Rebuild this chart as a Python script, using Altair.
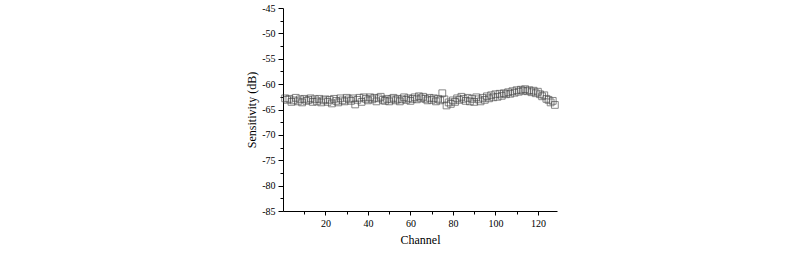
import altair as alt
import pandas as pd

channels = list(range(1, 129))
sensitivity = [
    -62.8, -63.1, -62.9, -63.5, -63.2, -62.7, -63.4, -63.0, -63.6, -62.9,
    -63.3, -63.1, -62.8, -63.5, -63.0, -63.4, -62.9, -63.6, -63.2, -63.0,
    -63.5, -63.1, -63.8, -62.9, -63.3, -63.6, -62.8, -63.2, -63.4, -62.7,
    -63.0, -63.3, -62.8, -64.0, -63.1, -62.7, -63.5, -62.6, -62.9, -63.2,
    -62.6, -63.0, -62.7, -63.4, -62.8, -62.5, -63.1, -63.3, -62.9, -63.4,
    -63.0, -62.7, -63.2, -62.9, -63.4, -63.0, -62.6, -63.1, -62.8, -63.3,
    -62.9, -62.6, -63.0, -62.4, -62.8, -62.5, -62.9, -63.2, -62.7, -63.1,
    -62.8, -63.4, -62.9, -63.2, -61.8, -63.0, -64.2, -63.6, -63.9, -63.2,
    -63.5, -62.8, -63.1, -62.5, -62.9, -63.3, -62.7, -63.4, -62.9, -63.5,
    -62.6, -63.0, -63.4, -62.7, -63.1, -62.4, -62.8, -62.2, -62.6, -62.0,
    -62.5, -61.9, -62.3, -61.8, -62.0, -61.6, -61.9, -61.4, -61.7, -61.2,
    -61.5, -61.1, -61.3, -61.0, -61.4, -61.2, -61.6, -61.3, -61.8, -61.5,
    -62.0, -62.4, -62.2, -62.9, -63.1, -63.6, -63.3, -64.1,
]
x_tick_values = [10, 20, 30, 40, 50, 60, 70, 80, 90, 100, 110, 120]
y_tick_values = [-85 + 2.5 * i for i in range(17)]

df = pd.DataFrame({"Channel": channels, "Sensitivity": sensitivity})

font = "Liberation Serif"

chart = alt.Chart(df).mark_point(
    shape="square", filled=False, size=46, strokeWidth=0.9, color="#444444"
).encode(
    x=alt.X(
        "Channel:Q",
        scale=alt.Scale(domain=[0, 129], nice=False, zero=False),
        axis=alt.Axis(
            title="Channel",
            values=x_tick_values,
            labelExpr="datum.value % 20 === 0 ? datum.label : ''",
            tickSize={"condition": {"test": "datum.value % 20 === 0", "value": 4}, "value": 3},
            grid=False,
            titlePadding=6,
        ),
    ),
    y=alt.Y(
        "Sensitivity:Q",
        scale=alt.Scale(domain=[-85, -45], nice=False, zero=False),
        axis=alt.Axis(
            title="Sensitivity (dB)",
            values=y_tick_values,
            labelExpr="datum.value % 5 === 0 ? '-' + abs(datum.value) : ''",
            tickSize={"condition": {"test": "datum.value % 5 === 0", "value": 5}, "value": 3},
            grid=False,
            titlePadding=3,
        ),
    ),
).properties(
    width=274,
    height=203,
    padding={"left": 283, "top": 8, "right": 243, "bottom": 43},
    autosize=alt.AutoSizeParams(type="none"),
).configure_view(
    stroke=None
).configure_axis(
    domainColor="black",
    tickColor="black",
    labelColor="black",
    titleColor="black",
    labelFont=font,
    titleFont=font,
    labelFontSize=10,
    titleFontSize=12,
    titleFontWeight="normal",
    labelPadding=3,
)

chart.save("out.html", embed_options={"renderer": "svg", "actions": False})
